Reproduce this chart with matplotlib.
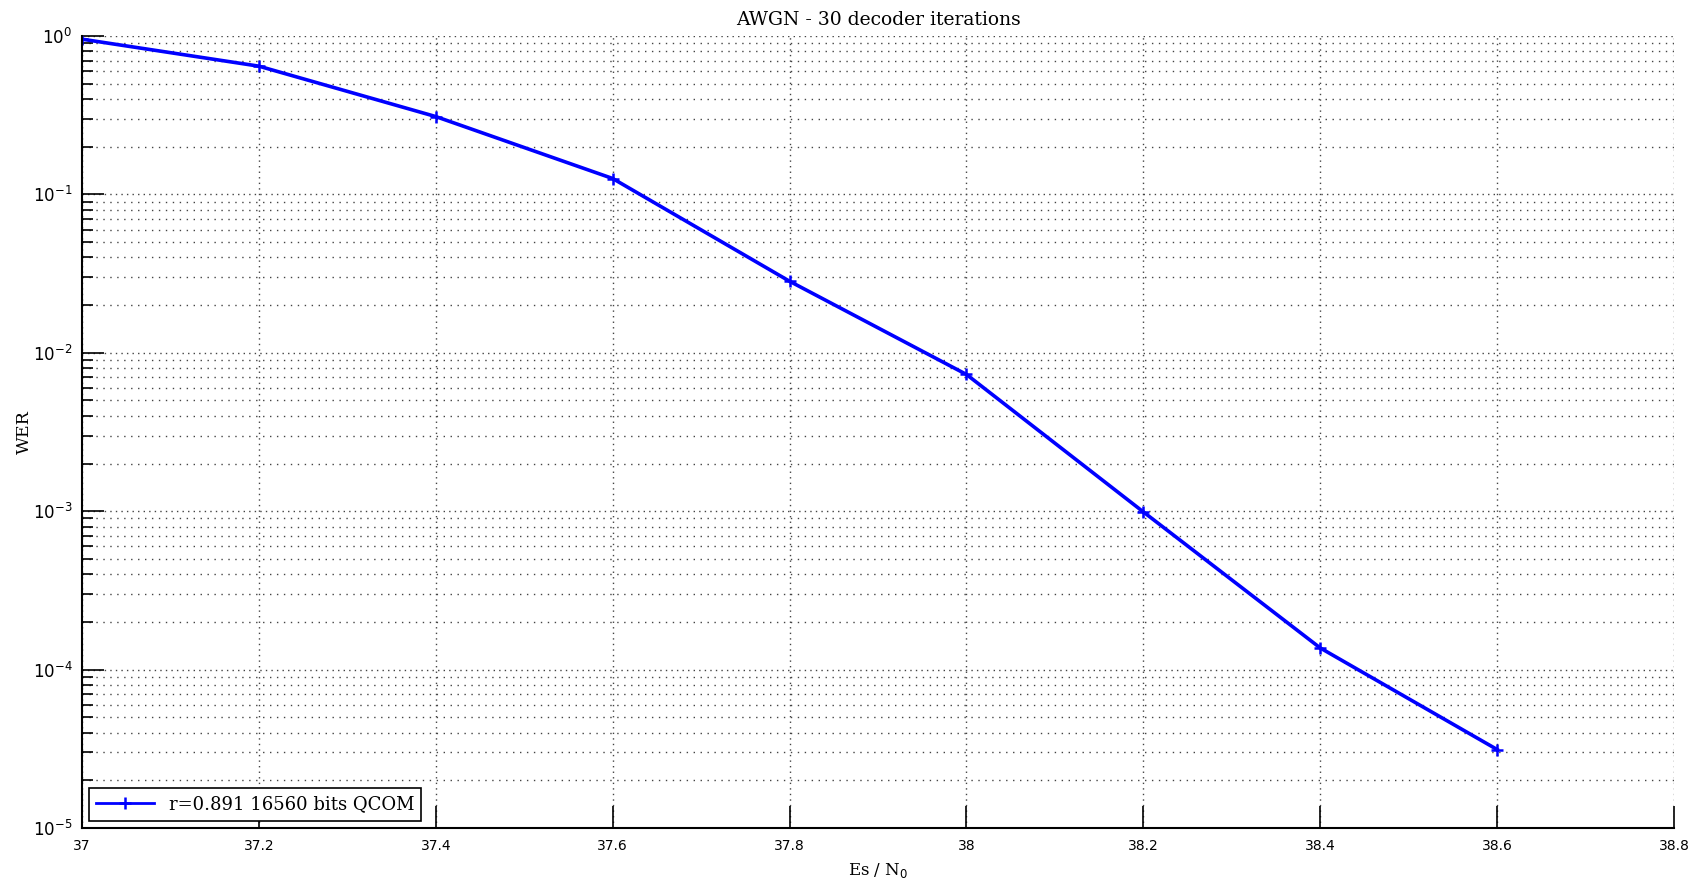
import matplotlib
matplotlib.use("Agg")
import matplotlib.pyplot as plt
from matplotlib.ticker import LogLocator, NullFormatter

esn0 = [37.0, 37.2, 37.4, 37.6, 37.8, 38.0, 38.2, 38.4, 38.6]
wer = [0.955, 0.645, 0.31, 0.126, 0.0283, 0.0073, 0.00099, 1.37e-4, 3.13e-5]
xticks = [37.0, 37.2, 37.4, 37.6, 37.8, 38.0, 38.2, 38.4, 38.6, 38.8]
xticklabels = ["37", "37.2", "37.4", "37.6", "37.8", "38", "38.2", "38.4", "38.6", "38.8"]
series_label = "r=0.891 16560 bits QCOM"
title = "AWGN - 30 decoder iterations"

fig = plt.figure(figsize=(17.01, 8.88), dpi=100)
ax = fig.add_axes([82/1701, 60/888, (1674-82)/1701, (828-36)/888])

ax.semilogy(esn0, wer, color="#0000ff", lw=2.6, marker="+", ms=9, mew=1.8,
            label=series_label)

ax.set_xlim(37, 38.8)
ax.set_ylim(1e-5, 1)
ax.set_xticks(xticks)
ax.set_xticklabels(xticklabels, fontsize=10, family="DejaVu Sans")
ax.yaxis.set_major_locator(LogLocator(base=10, numticks=10))
ax.yaxis.set_minor_locator(LogLocator(base=10, subs=range(2, 10), numticks=50))
ax.yaxis.set_minor_formatter(NullFormatter())
for t in ax.get_yticklabels():
    t.set_fontsize(12)

ax.tick_params(axis="both", which="major", direction="in", length=16, width=1.2, color="black")
ax.tick_params(axis="y", which="minor", direction="in", length=8, width=1.2)
ax.tick_params(axis="x", which="major", pad=8)
ax.tick_params(axis="y", which="major", pad=7)

ax.grid(True, which="major", linestyle=(0, (1, 3)), color="#444444", lw=1.0)
ax.grid(True, which="minor", axis="y", linestyle=(0, (1, 4)), color="#444444", lw=1.0)

for s in ["top", "right"]:
    ax.spines[s].set_visible(False)
for s in ["left", "bottom"]:
    ax.spines[s].set_linewidth(1.5)

ax.set_title(title, fontsize=13.5, family="DejaVu Serif", pad=8)
ax.set_xlabel("Es / N$_0$", fontsize=12, family="DejaVu Serif", labelpad=6)
ax.set_ylabel("WER", fontsize=12.5, family="DejaVu Serif")
ax.yaxis.set_label_coords(-0.031, 0.5)

leg = ax.legend(loc="lower left", prop={"family": "DejaVu Serif", "size": 13},
                fancybox=False, edgecolor="black", framealpha=1,
                borderaxespad=0.4, handlelength=3.2, borderpad=0.4)
leg.get_frame().set_linewidth(1.2)
leg.get_lines()[0].set_linewidth(2)

fig.savefig("out.png", dpi=100)
